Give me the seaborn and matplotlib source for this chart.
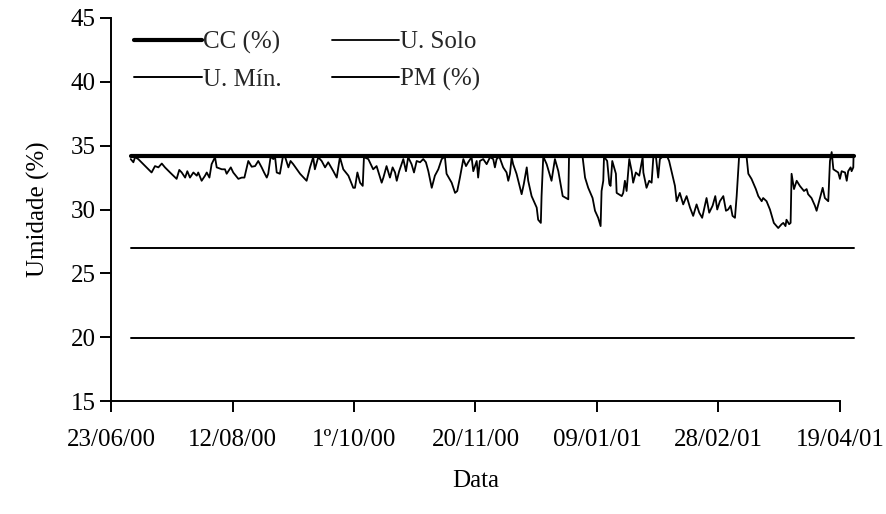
import pandas as pd
import matplotlib
matplotlib.use("Agg")
import matplotlib.pyplot as plt
import seaborn as sns

# dias contados a partir de 23/06/00 e umidade do solo
dias = [8.1, 9.2, 9.9, 11.2, 13.3, 16.7, 18.1, 19.5, 20.9, 22.2, 24.3, 27.0, 28.1, 29.1,
        30.5, 31.4, 32.5, 33.9, 35.3, 35.9, 37.3, 38.7, 39.4, 40.5, 41.4, 42.8, 43.5, 45.6,
        46.9, 47.6, 49.3, 50.3, 52.4, 53.8, 54.9, 56.5, 57.9, 59.3, 60.6, 62.0, 63.0, 64.1,
        64.7, 65.7, 66.8, 67.5, 68.2, 69.5, 70.7, 71.6, 73.0, 73.9, 75.0, 77.8, 80.5, 81.9,
        83.2, 83.9, 85.3, 86.7, 88.1, 89.4, 91.5, 92.9, 94.2, 95.6, 97.7, 99.7, 100.4, 101.4,
        102.5, 103.6, 104.1, 105.9, 107.9, 109.3, 111.4, 112.1, 113.4, 114.8, 115.9, 116.9,
        117.6, 118.6, 120.3, 121.4, 122.3, 123.7, 124.7, 125.8, 127.2, 128.5, 129.6, 130.6,
        132.0, 133.3, 134.7, 136.1, 137.4, 138.1, 140.2, 141.6, 142.5, 143.6, 145.0, 146.1,
        147.0, 148.4, 149.1, 150.5, 151.1, 151.8, 153.2, 154.6, 156.0, 157.3, 158.0, 158.7,
        159.8, 161.4, 162.8, 163.5, 164.2, 164.9, 165.5, 166.9, 169.0, 169.9, 171.1, 171.7,
        173.1, 175.2, 175.8, 176.9, 177.2, 177.9, 179.3, 181.3, 182.7, 184.1, 185.9, 188.2,
        188.5, 190.2, 192.2, 194.1, 195.1, 196.4, 198.2, 199.2, 200.5, 201.5, 201.9, 202.6,
        202.9, 204.2, 205.1, 205.6, 206.3, 207.8, 208.1, 210.2, 210.8, 211.5, 212.2, 213.3,
        214.3, 214.9, 216.0, 217.4, 218.8, 219.1, 220.4, 221.5, 222.5, 223.2, 224.3, 225.2,
        225.9, 227.0, 228.9, 229.7, 230.7, 232.1, 232.8, 234.1, 235.5, 236.9, 238.3, 239.6,
        241.0, 242.1, 243.3, 245.1, 246.2, 247.6, 248.7, 249.5, 250.6, 252.0, 253.1, 254.0,
        255.0, 255.8, 256.8, 257.5, 258.5, 261.6, 262.3, 263.6, 265.4, 266.4, 267.8, 268.4,
        269.8, 271.2, 272.8, 274.6, 276.0, 276.7, 277.6, 278.0, 279.1, 279.7, 280.1, 281.1,
        282.2, 283.5, 285.2, 286.3, 286.9, 288.3, 289.7, 290.4, 291.8, 292.9, 293.8, 295.2,
        295.9, 296.6, 297.3, 299.3, 300.0, 300.7, 302.1, 302.8, 303.4, 304.4, 304.8, 305.5,
        305.6]
u_solo = [33.95, 33.7, 34.1, 33.95, 33.55, 32.9, 33.4, 33.3, 33.6, 33.3, 32.9, 32.4, 33.1, 32.9,
          32.5, 33.0, 32.5, 32.9, 32.65, 32.9, 32.25, 32.65, 32.9, 32.5, 33.55, 34.1, 33.3, 33.15,
          33.15, 32.8, 33.3, 32.9, 32.4, 32.5, 32.5, 33.8, 33.35, 33.4, 33.8, 33.3, 32.9, 32.5,
          32.8, 34.15, 33.95, 34.15, 32.9, 32.8, 34.1, 34.15, 33.3, 33.8, 33.55, 32.8, 32.25, 33.3,
          34.1, 33.15, 34.1, 33.8, 33.3, 33.7, 33.0, 32.5, 34.1, 33.15, 32.65, 31.7, 31.7, 32.9,
          32.1, 31.85, 34.1, 33.95, 33.15, 33.4, 32.1, 32.5, 33.4, 32.5, 33.3, 32.9,
          32.25, 33.0, 33.95, 33.0, 34.1, 33.55, 32.9, 33.8, 33.7, 33.95, 33.7, 33.0,
          31.7, 32.65, 33.15, 33.95, 34.15, 32.8, 32.1, 31.3, 31.45, 32.5, 33.95, 33.4,
          33.7, 34.1, 33.0, 33.8, 32.5, 33.8, 33.95, 33.55, 34.1, 33.95, 33.3, 33.95,
          34.15, 33.3, 32.9, 32.25, 32.8, 34.1, 33.55, 32.8, 31.2, 32.0, 33.3, 32.25,
          31.05, 30.15, 29.2, 28.95, 31.05, 34.15, 33.55, 32.25, 33.95, 33.0, 31.05, 30.8,
          34.15, 34.2, 34.2, 34.1, 32.5, 31.7, 30.9, 29.9, 29.35, 28.7, 31.45, 32.25,
          34.15, 33.8, 32.0, 31.85, 33.8, 32.8, 31.3, 31.05, 31.3, 32.25, 31.45, 33.95,
          33.0, 32.1, 32.9, 32.65, 34.1, 32.9, 31.7, 32.25, 32.1, 34.1, 34.1, 32.5,
          33.95, 34.15, 34.15, 33.8, 33.0, 31.85, 30.65, 31.3, 30.4, 31.05, 30.15, 29.5,
          30.4, 29.75, 29.35, 30.9, 29.75, 30.3, 31.05, 30.0, 30.65, 31.05, 29.9, 30.0,
          30.3, 29.5, 29.35, 31.05, 34.15, 34.1, 32.8, 32.4, 31.6, 31.05, 30.65, 30.9,
          30.65, 30.0, 28.95, 28.55, 28.85, 28.95, 28.7, 29.2, 28.85, 28.95, 32.8, 31.6,
          32.25, 31.85, 31.45, 31.6, 31.2, 30.9, 30.3, 29.9, 30.9, 31.7, 30.9, 30.65,
          33.8, 34.5, 33.15, 32.9, 32.4, 33.0, 32.9, 32.25, 33.0, 33.3, 33.0, 33.3,
          34.15]

dias_ref = [8.1, 305.6]
cc = [34.2, 34.2]
u_min = [27.0, 27.0]
pm = [19.9, 19.9]

ticks_dias = [0, 50, 100, 150, 200, 250, 300]
ticks_rotulos = ["23/06/00", "12/08/00", "1º/10/00", "20/11/00", "09/01/01", "28/02/01", "19/04/01"]

inicio = pd.Timestamp("2000-06-23")
datas = inicio + pd.to_timedelta(dias, unit="D")
datas_ref = inicio + pd.to_timedelta(dias_ref, unit="D")
ticks_datas = inicio + pd.to_timedelta(ticks_dias, unit="D")

sns.set_theme(style="ticks")
plt.rcParams["font.family"] = "serif"
plt.rcParams["font.serif"] = ["Liberation Serif", "DejaVu Serif"]

fs = 18
fig = plt.figure(figsize=(8.86, 5.14), dpi=100)
ax = fig.add_axes([0.1253, 0.2198, 0.8227, 0.7452])

l_cc, = ax.plot(datas_ref, cc, color="black", lw=3.0, clip_on=False, label="CC (%)")
l_min, = ax.plot(datas_ref, u_min, color="black", lw=1.4, clip_on=False, label="U. Mín.")
sns.lineplot(x=datas, y=u_solo, ax=ax, color="black", lw=1.3, sort=False,
             estimator=None, label="U. Solo")
l_solo = ax.lines[-1]
l_solo.set_clip_on(False)
l_pm, = ax.plot(datas_ref, pm, color="black", lw=1.4, clip_on=False, label="PM (%)")

ax.set_xlim(ticks_datas[0], ticks_datas[-1])
ax.set_ylim(15, 45)
ax.set_yticks(range(15, 46, 5))
ax.set_xticks(ticks_datas)
ax.set_xticklabels(ticks_rotulos)
ax.tick_params(axis="both", labelsize=fs, color="black", labelcolor="black",
               width=1.4, length=8, direction="out")
ax.tick_params(axis="x", pad=12)
ax.tick_params(axis="y", pad=3)
for s in ["top", "right"]:
    ax.spines[s].set_visible(False)
for s in ["left", "bottom"]:
    ax.spines[s].set_color("black")
    ax.spines[s].set_linewidth(1.4)

ax.set_ylabel("Umidade (%)", fontsize=fs, color="black", labelpad=15)
ax.set_xlabel("Data", fontsize=fs, color="black", labelpad=14)

ax.legend(handles=[l_cc, l_min, l_solo, l_pm], ncol=2, loc="upper left",
          bbox_to_anchor=(0.025, 0.98), frameon=False, fontsize=fs,
          handlelength=2.7, handletextpad=0.05, columnspacing=2.0, labelspacing=0.6,
          borderaxespad=0.0, borderpad=0.2)

fig.savefig("out.png", dpi=100)
